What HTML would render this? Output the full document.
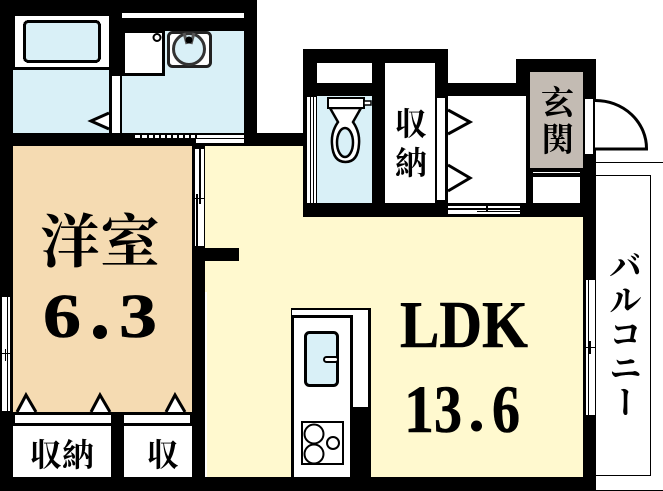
<!DOCTYPE html>
<html><head><meta charset="utf-8">
<style>
html,body{margin:0;padding:0;background:#fff;width:663px;height:491px;overflow:hidden}
svg{display:block}
.j{font-family:"Liberation Serif","Noto Serif CJK SC","Noto Serif CJK JP",serif;font-weight:700;fill:#000}
.l{font-family:"Liberation Serif",serif;font-weight:700;fill:#000;stroke:#000;stroke-width:.6}
</style></head><body>
<svg width="663" height="491" viewBox="0 0 663 491" xmlns="http://www.w3.org/2000/svg">
<g shape-rendering="crispEdges">
<!-- black masses -->
<rect x="0" y="0" width="257" height="146" fill="#000"/>
<rect x="0" y="133" width="316" height="13" fill="#000"/>
<rect x="0" y="146" width="13" height="345" fill="#000"/>
<rect x="192" y="146" width="13" height="345" fill="#000"/>
<rect x="303" y="49" width="145" height="168" fill="#000"/>
<rect x="448" y="83" width="70" height="134" fill="#000"/>
<rect x="516" y="59" width="80" height="158" fill="#000"/>
<rect x="583" y="59" width="13" height="432" fill="#000"/>
<rect x="0" y="477" width="596" height="14" fill="#000"/>
<rect x="0" y="412" width="205" height="79" fill="#000"/>
<!-- floors -->
<rect x="13" y="146" width="179" height="266" fill="#f5dbb2"/>
<rect x="205" y="146" width="98" height="331" fill="#fff9cf"/>
<rect x="205" y="217" width="378" height="260" fill="#fff9cf"/>
<rect x="205" y="248" width="34" height="13" fill="#000"/>
<rect x="205" y="292" width="2" height="185" fill="#fff"/>
<!-- bath -->
<rect x="13" y="70" width="96" height="63" fill="#d9f0f7"/>
<rect x="15" y="16" width="94" height="51" fill="#fff"/>
<rect x="24.5" y="21.5" width="75" height="40" rx="4" fill="#d9f0f7" stroke="#000" stroke-width="3"/>
<rect x="112" y="76" width="8" height="57" fill="#fff"/>
<!-- wash -->
<rect x="122" y="31" width="122" height="102" fill="#d9f0f7"/>
<rect x="122" y="13" width="122" height="5" fill="#fff"/>
<rect x="122" y="31" width="43" height="45" fill="#000"/>
<rect x="125" y="33" width="37" height="40" fill="#fff"/>
<rect x="135" y="135" width="109" height="3" fill="#fff"/>
<rect x="196" y="139" width="48" height="4" fill="#fff"/>
<!-- window ticks -->
<g fill="#000"><rect x="140" y="135" width="2" height="3"/><rect x="147" y="135" width="2" height="3"/><rect x="153" y="135" width="2" height="3"/><rect x="159" y="135" width="2" height="3"/><rect x="165" y="135" width="2" height="3"/><rect x="171" y="135" width="2" height="3"/><rect x="177" y="135" width="2" height="3"/><rect x="183" y="135" width="2" height="3"/><rect x="189" y="135" width="2" height="3"/><rect x="195" y="135" width="2" height="3"/></g>
<!-- door strip between wood and LDK -->
<rect x="195" y="149" width="9" height="97" fill="#fff"/>
<rect x="199" y="149" width="2" height="55" fill="#000"/>
<rect x="196" y="194" width="2" height="52" fill="#000"/>
<rect x="195" y="198" width="9" height="1" fill="#000"/>
<!-- toilet room -->
<rect x="317" y="63" width="55" height="20" fill="#fff"/>
<rect x="317" y="96" width="55" height="107" fill="#d9f0f7"/>
<rect x="307" y="97" width="9" height="106" fill="#fff"/>
<rect x="310" y="97" width="1" height="106" fill="#000"/>
<rect x="313" y="97" width="1" height="106" fill="#000"/>
<!-- storage -->
<rect x="385" y="63" width="50" height="140" fill="#fff"/>
<rect x="437" y="98" width="8" height="102" fill="#fff"/>
<rect x="448" y="96" width="78" height="107" fill="#fff"/>
<rect x="448" y="206" width="72" height="8" fill="#fff"/>
<rect x="448" y="208" width="72" height="2" fill="#000"/>
<rect x="477" y="211" width="43" height="1" fill="#000"/>
<rect x="486" y="206" width="2" height="6" fill="#000"/>
<!-- genkan -->
<rect x="530" y="72" width="53" height="96" fill="#c3bbb3"/>
<rect x="533" y="172" width="47" height="1" fill="#fff"/>
<rect x="533" y="177" width="47" height="26" fill="#fff"/>
<rect x="585" y="99" width="8" height="55" fill="#fff"/>
<!-- left window -->
<rect x="2" y="297" width="8" height="114" fill="#fff"/>
<rect x="7" y="297" width="1" height="114" fill="#000"/>
<rect x="2" y="353" width="8" height="1" fill="#000"/>
<rect x="5" y="349" width="1" height="12" fill="#000"/>
<!-- LDK right window -->
<rect x="586" y="280" width="9" height="135" fill="#fff"/>
<rect x="588" y="280" width="1" height="135" fill="#000"/>
<rect x="585" y="347" width="10" height="1" fill="#000"/>
<rect x="589" y="341" width="2" height="13" fill="#000"/>
<!-- closets -->
<rect x="15" y="415" width="96" height="8" fill="#fff"/>
<rect x="124" y="415" width="66" height="8" fill="#fff"/>
<rect x="13" y="426" width="98" height="51" fill="#fff"/>
<rect x="124" y="426" width="68" height="51" fill="#fff"/>
<!-- kitchen -->
<rect x="291" y="308" width="80" height="169" fill="#000"/>
<rect x="292" y="310" width="76" height="5" fill="#fff"/>
<rect x="353" y="310" width="15" height="97" fill="#fff"/>
<rect x="294" y="318" width="56" height="159" fill="#fff"/>
<!-- balcony lines -->
<rect x="596" y="162" width="67" height="1" fill="#000"/>
<rect x="596" y="175" width="55" height="1" fill="#000"/>
<rect x="650" y="175" width="1" height="300" fill="#000"/>
<rect x="596" y="475" width="55" height="1" fill="#000"/>
<rect x="596" y="490" width="67" height="1" fill="#000"/>
</g>
<!-- sink -->
<rect x="168.5" y="32.5" width="42" height="34" rx="4" fill="#fff" stroke="#222" stroke-width="3"/>
<circle cx="189" cy="49" r="15.5" fill="#d9f0f7" stroke="#333" stroke-width="3"/>
<path d="M184 33 L187 44 M194 33 L191 44" stroke="#555" stroke-width="3" fill="none"/>
<circle cx="189" cy="40" r="3.5" fill="#000"/>
<circle cx="157" cy="37.500" r="3.500" fill="#fff" stroke="#000" stroke-width="2"/>
<!-- triangles -->
<g fill="#fff" stroke="#000" stroke-width="3">
<path d="M109 113 L91 121 L109 129"/>
<path d="M448 110 L470 122 L448 134"/>
<path d="M448 165 L470 178 L448 191"/>
<path d="M17 412 L26 395 L36 412"/>
<path d="M91 412 L100 395 L110 412"/>
<path d="M166 412 L175 395 L185 412"/>
</g>
<!-- toilet -->
<path d="M330 108 L338 122 Q331 132 332 144 Q333 162 345.500 162 Q358 162 359 144 Q360 132 353 122 L361 108 Z" fill="#fff" stroke="#000" stroke-width="2.500"/>
<ellipse cx="345" cy="142.500" rx="8" ry="14.500" fill="#d9f0f7" stroke="#000" stroke-width="2.500"/>
<rect x="328" y="98" width="36" height="10" fill="#fff" stroke="#000" stroke-width="2"/>
<rect x="364" y="101" width="7" height="4" fill="#fff" stroke="#000" stroke-width="1.500"/>
<!-- door arc -->
<path d="M595 100.500 A51 48 0 0 1 646.500 149 L595 149" fill="#fff" stroke="#000" stroke-width="3"/>
<!-- kitchen fixtures -->
<rect x="305.500" y="332.500" width="32" height="53" rx="4" fill="#d9f0f7" stroke="#000" stroke-width="3"/>
<rect x="324" y="357" width="14" height="5" rx="2.500" fill="#fff" stroke="#000" stroke-width="2"/>
<rect x="302" y="422" width="41" height="42" fill="#fff" stroke="#000" stroke-width="2"/>
<circle cx="314" cy="434" r="9.500" fill="#fff" stroke="#000" stroke-width="2"/>
<circle cx="314" cy="454" r="9.500" fill="#fff" stroke="#000" stroke-width="2"/>
<circle cx="333" cy="443" r="6" fill="#fff" stroke="#000" stroke-width="2"/>
<!-- labels -->
<text class="j" x="40" y="262" font-size="58" textLength="120" lengthAdjust="spacingAndGlyphs">洋室</text>
<text class="l" x="43" y="337" font-size="62" textLength="38" lengthAdjust="spacingAndGlyphs">6</text>
<circle cx="100" cy="332" r="7" fill="#000"/>
<text class="l" x="119" y="337" font-size="62" textLength="38" lengthAdjust="spacingAndGlyphs">3</text>
<text class="l" x="400" y="347" font-size="67" textLength="128" lengthAdjust="spacingAndGlyphs">LDK</text>
<text class="l" x="404" y="432" font-size="68" textLength="30" lengthAdjust="spacingAndGlyphs">1</text>
<text class="l" x="434" y="432" font-size="68" textLength="28" lengthAdjust="spacingAndGlyphs">3</text>
<circle cx="476.500" cy="426" r="5.500" fill="#000"/>
<text class="l" x="492" y="432" font-size="68" textLength="28" lengthAdjust="spacingAndGlyphs">6</text>
<text class="j" x="395" y="135" font-size="32">収</text>
<text class="j" x="395" y="174" font-size="32">納</text>
<text class="j" x="541" y="114" font-size="33">玄</text>
<text class="j" x="541" y="151" font-size="33">関</text>
<text class="j" x="30" y="466" font-size="32">収納</text>
<text class="j" x="147" y="466" font-size="32">収</text>
<text class="j" font-size="33" x="622" y="249" style="writing-mode:vertical-rl;letter-spacing:1px">バルコニー</text>
</svg>
</body></html>
